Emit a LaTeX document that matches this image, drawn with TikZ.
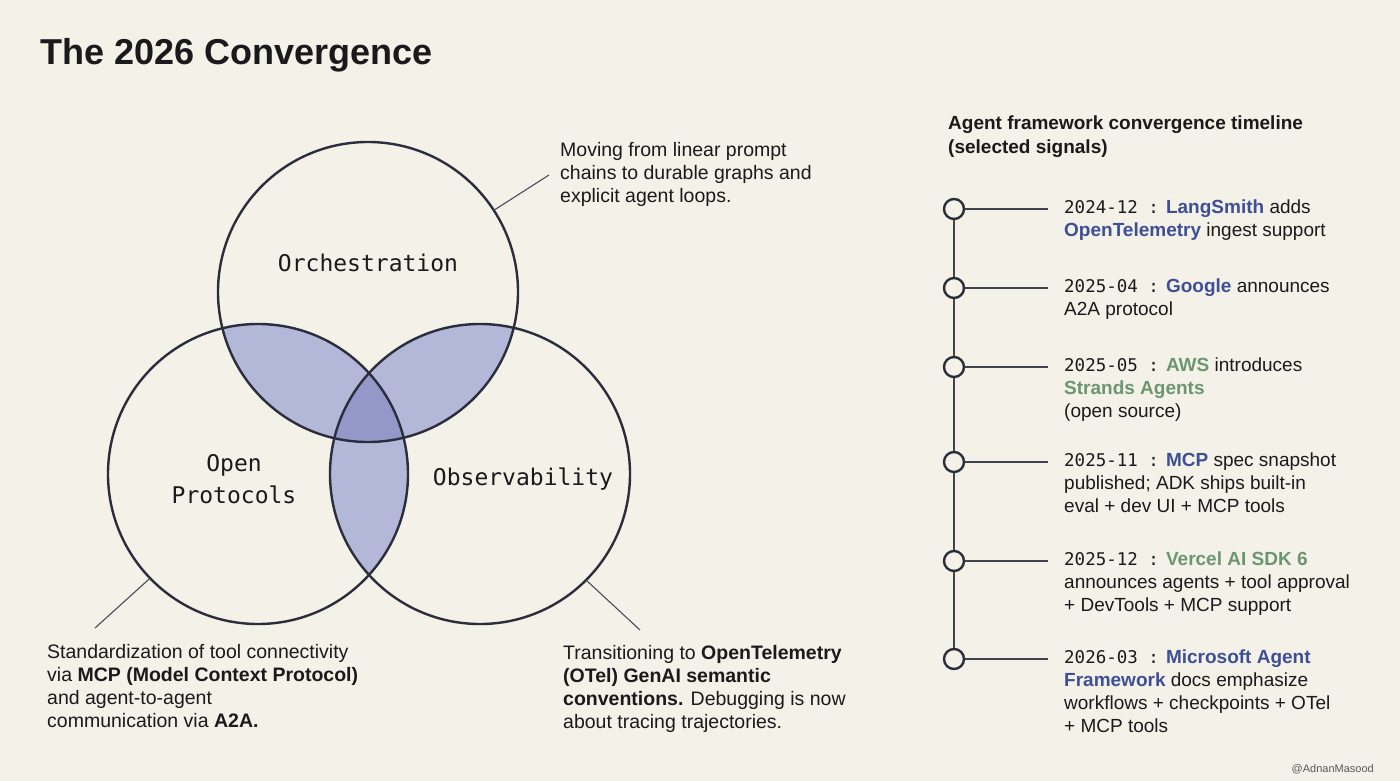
\documentclass[tikz,border=0pt]{standalone}
\usepackage{fontspec}
\setmainfont{Liberation Sans}
\newfontfamily\monofont{DejaVu Sans Mono}

\definecolor{paper}{RGB}{244,241,232}
\definecolor{ink}{RGB}{26,26,28}
\definecolor{rim}{RGB}{42,46,60}
\definecolor{lensfill}{RGB}{180,184,216}
\definecolor{corefill}{RGB}{147,152,201}
\definecolor{signalblue}{RGB}{62,79,150}
\definecolor{signalgreen}{RGB}{108,150,112}

\newcommand\tldate[1]{{\monofont\fontsize{17.5}{23}\selectfont #1}}
\newcommand\tlblue[1]{\textcolor{signalblue}{\bfseries #1}}
\newcommand\tlgreen[1]{\textcolor{signalgreen}{\bfseries #1}}

\begin{document}
\begin{tikzpicture}[
                      x=1pt, y=-1pt,
                      setnode/.style = {circle, draw=rim, line width=2.4pt, minimum size=300pt, inner sep=0pt, outer sep=0pt},
                      setlabel/.style = {font=\monofont\fontsize{23}{32}\selectfont, text=ink, align=center},
                      notenode/.style = {anchor=north west, inner sep=0pt, align=left, text=ink, font=\fontsize{19.5}{23}\selectfont, execute at begin node=\strut},
                      eventnode/.style = {notenode, font=\fontsize{19}{23}\selectfont},
                      dotnode/.style = {circle, draw=rim, fill=paper, line width=2.4pt, minimum size=20pt, inner sep=0pt},
                      leader/.style = {draw=rim!85, line width=1.1pt},
                      rail/.style = {draw=rim!90, line width=2.4pt}
                  ]
                  \useasboundingbox (0,0) rectangle (1400,781);
                  \fill[paper] (0,0) rectangle (1400,781);
                  \node[anchor=base west, inner sep=0pt, text=ink, font=\bfseries\fontsize{36}{40}\selectfont] (title) at (40,65) {The 2026 Convergence};

                  % overlaps of the three sets
                  \begin{scope}
                    \clip (368,292) circle[radius=150pt];
                    \fill[lensfill] (258,474) circle[radius=150pt];
                    \fill[lensfill] (480,474) circle[radius=150pt];
                  \end{scope}
                  \begin{scope}
                    \clip (258,474) circle[radius=150pt];
                    \fill[lensfill] (480,474) circle[radius=150pt];
                  \end{scope}
                  \begin{scope}
                    \clip (368,292) circle[radius=150pt];
                    \clip (258,474) circle[radius=150pt];
                    \fill[corefill] (480,474) circle[radius=150pt];
                  \end{scope}
                  \node[setnode] (orch) at (368,292) {};
                  \node[setnode] (proto) at (258,474) {};
                  \node[setnode] (obs) at (480,474) {};
                  \node[setlabel] (orchlabel) at (368,263) {Orchestration};
                  \node[setlabel] (protolabel) at (234,479) {Open\\Protocols};
                  \node[setlabel] (obslabel) at (523,479) {Observability};

                  % notes
                  \node[notenode] (orchnote) at (560,142) {Moving from linear prompt\\chains to durable graphs and\\explicit agent loops.};
                  \node[notenode] (protonote) at (47,644) {Standardization of tool connectivity\\via \textbf{MCP (Model Context Protocol)}\\and agent-to-agent\\communication via \textbf{A2A.}};
                  \node[notenode] (obsnote) at (563,645) {Transitioning to \textbf{OpenTelemetry}\\\textbf{(OTel) GenAI semantic}\\\textbf{conventions.} Debugging is now\\about tracing trajectories.};
                  \coordinate (orchend) at (549,175);
                  \coordinate (protoend) at (95,628);
                  \coordinate (obsend) at (640,630);
                  \draw[leader] (orch.33) -- (orchend);
                  \draw[leader] (proto.224) -- (protoend);
                  \draw[leader] (obs.-45) -- (obsend);

                  % timeline
                  \node[notenode, font=\bfseries\fontsize{19}{24}\selectfont] (tlhead) at (948,116) {Agent framework convergence timeline\\(selected signals)};
                  \foreach \i/\y in {1/209,2/288,3/367,4/462,5/561,6/659}
                    \node[dotnode] (t\i) at (954,\y) {};
                  \foreach \a/\b in {1/2,2/3,3/4,4/5,5/6}
                    \draw[rail] (t\a) -- (t\b);
                  \node[eventnode] (e1) at (1064,200) {\tldate{2024-12 :} \tlblue{LangSmith} adds\\\tlblue{OpenTelemetry} ingest support};
                  \node[eventnode] (e2) at (1064,279) {\tldate{2025-04 :} \tlblue{Google} announces\\A2A protocol};
                  \node[eventnode] (e3) at (1064,358) {\tldate{2025-05 :} \tlgreen{AWS} introduces\\\tlgreen{Strands Agents}\\(open source)};
                  \node[eventnode] (e4) at (1064,453) {\tldate{2025-11 :} \tlblue{MCP} spec snapshot\\published; ADK ships built-in\\eval + dev UI + MCP tools};
                  \node[eventnode] (e5) at (1064,552) {\tldate{2025-12 :} \tlgreen{Vercel AI SDK 6}\\announces agents + tool approval\\+ DevTools + MCP support};
                  \node[eventnode] (e6) at (1064,650) {\tldate{2026-03 :} \tlblue{Microsoft Agent}\\\tlblue{Framework} docs emphasize\\workflows + checkpoints + OTel\\+ MCP tools};
                  \foreach \i in {1,...,6}
                    \draw[rim!90, line width=1.8pt, shorten >=16pt] (t\i.east) -- (t\i.east -| e\i.west);

                  \node[anchor=base east, inner sep=0pt, text=black!65, font=\fontsize{11}{13}\selectfont] (credit) at (1374,772) {@AdnanMasood};
              \end{tikzpicture}
\end{document}
